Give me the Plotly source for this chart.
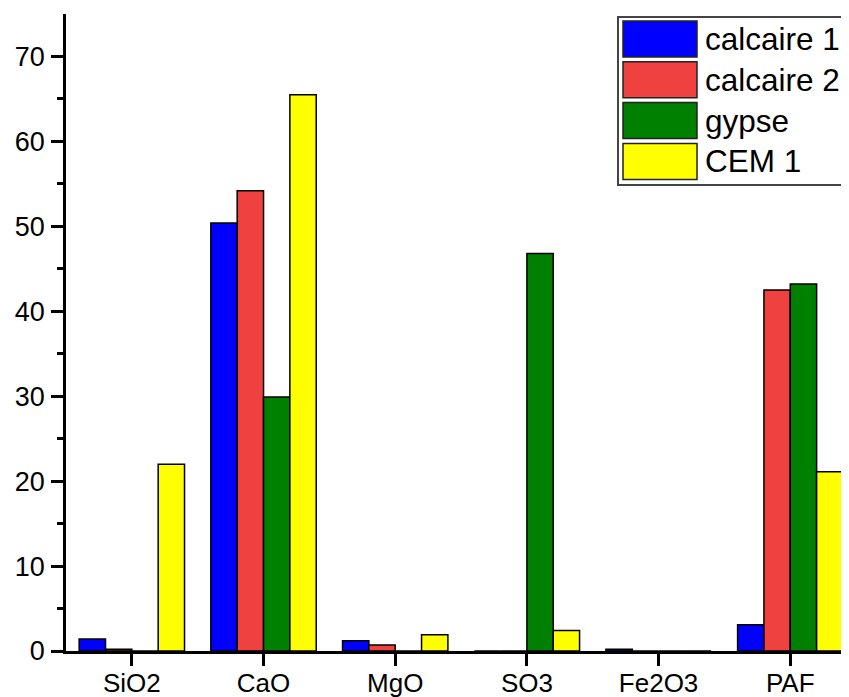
import plotly.graph_objects as go

categories = ["SiO2", "CaO", "MgO", "SO3", "Fe2O3", "PAF"]
series_names = ["calcaire 1", "calcaire 2", "gypse", "CEM 1"]
calcaire1 = [1.4, 50.4, 1.2, 0.0, 0.2, 3.1]
calcaire2 = [0.2, 54.2, 0.7, 0.0, 0.0, 42.5]
gypse = [0.0, 29.9, 0.0, 46.8, 0.0, 43.2]
cem1 = [22.0, 65.5, 1.9, 2.4, 0.0, 21.1]
y_ticks = [0, 10, 20, 30, 40, 50, 60, 70]

series_values = [calcaire1, calcaire2, gypse, cem1]
colors = ["#0000FF", "#F04141", "#008000", "#FFFF00"]

# page has an 8px body margin; work in page pixels and convert
OFF = 8
W, H = 849 - OFF, 697 - OFF
L, T, B, R = 66 - OFF, 14 - OFF, 651 - OFF, 849 - OFF
FONT = "Liberation Sans, Arial, sans-serif"

fig = go.Figure()
for name, vals, col in zip(series_names, series_values, colors):
    fig.add_trace(go.Bar(x=categories, y=vals, name=name, marker_color=col,
                         marker_line_color="black", marker_line_width=1.5,
                         showlegend=False))

def px_x(px):  # page pixel -> paper
    return (px - OFF - L) / (R - L)

def px_y(py):
    return (B - (py - OFF)) / (B - T)

shapes = []
annotations = []
shapes.append(dict(type="rect", xref="paper", yref="paper",
                   x0=px_x(618), x1=px_x(870), y0=px_y(185), y1=px_y(17),
                   line=dict(color="#444444", width=2), fillcolor="white", layer="above"))
row_top = 21
for i, (name, col) in enumerate(zip(series_names, colors)):
    y0 = row_top + i * 40.8
    y1 = y0 + 36
    shapes.append(dict(type="rect", xref="paper", yref="paper",
                       x0=px_x(623), x1=px_x(697), y0=px_y(y1), y1=px_y(y0),
                       line=dict(color="#222222", width=1.5), fillcolor=col, layer="above"))
    annotations.append(dict(xref="paper", yref="paper", x=px_x(703), y=px_y((y0 + y1) / 2),
                            text=name, showarrow=False, xanchor="left", yanchor="middle",
                            font=dict(family=FONT, size=31.5, color="black")))

fig.update_layout(
    width=W, height=H,
    margin=dict(l=L, r=W - R, t=T, b=H - B, pad=0, autoexpand=False),
    paper_bgcolor="white", plot_bgcolor="white",
    barmode="group", bargap=0.2, bargroupgap=0.0,
    font=dict(family=FONT, size=26, color="black"),
    shapes=shapes, annotations=annotations,
    xaxis=dict(type="category", range=[-0.5, 5.446], showline=True, linecolor="black",
               linewidth=2.5, ticks="outside", ticklen=12, tickwidth=2.5, tickcolor="black",
               showgrid=False, zeroline=False, tickfont=dict(size=26), automargin=False,
               ticklabelstandoff=-5),
    xaxis2=dict(overlaying="x", anchor="y", side="bottom", range=[-0.5, 5.446],
                tickmode="array", tickvals=[-0.5, 0.5, 1.5, 2.5, 3.5, 4.5, 5.5],
                ticks="outside", ticklen=6, tickwidth=2.5, tickcolor="black", automargin=False,
                showticklabels=False, showgrid=False, zeroline=False, showline=False),
    yaxis=dict(range=[0, 75], tickmode="array", tickvals=y_ticks, showline=True,
               linecolor="black", linewidth=2.5, ticks="outside", ticklen=12, tickwidth=2.5,
               tickcolor="black", showgrid=False, zeroline=False, tickfont=dict(size=27),
               automargin=False, ticklabelstandoff=1,
               minor=dict(tickmode="array", tickvals=[5, 15, 25, 35, 45, 55, 65],
                          ticks="outside", ticklen=6, tickwidth=2.5, tickcolor="black",
                          showgrid=False)),
)

fig.write_html("out.html")
